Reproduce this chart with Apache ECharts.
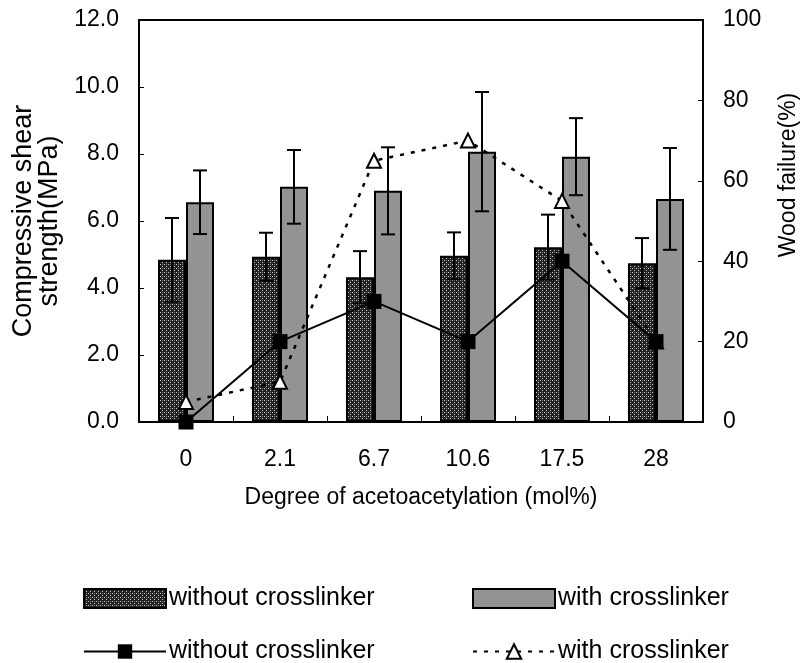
<!DOCTYPE html>
<html>
<head>
<meta charset="utf-8">
<script src="https://cdn.jsdelivr.net/npm/echarts@6/dist/echarts.min.js"></script>
<style>
  html, body { margin: 0; padding: 0; background: #fff; }
  #chart { width: 801px; height: 663px; }
</style>
</head>
<body>
<div id="chart"></div>
<script>
// Degree of acetoacetylation (mol%)
const categories = ['0', '2.1', '6.7', '10.6', '17.5', '28'];

// Compressive shear strength (MPa), mean and standard deviation
const shearWithout = [4.84, 4.93, 4.32, 4.96, 5.22, 4.74];
const sdWithout    = [1.25, 0.72, 0.78, 0.70, 0.97, 0.75];
const shearWith    = [6.56, 7.02, 6.90, 8.07, 7.92, 6.66];
const sdWith       = [0.95, 1.10, 1.30, 1.78, 1.15, 1.52];

// Wood failure (%)
const woodWithout = [0, 20, 30, 20, 40, 20];
const woodWith    = [5, 10, 65, 70, 55, 20];

// Axis ticks
const shearTicks = { min: 0, max: 12, interval: 2 };
const woodTicks  = { min: 0, max: 100, interval: 20 };

const legendText = {
  barWithout: 'without crosslinker',
  barWith: 'with crosslinker',
  lineWithout: 'without crosslinker',
  lineWith: 'with crosslinker'
};

// Stippled fill for the bars without crosslinker
function stipple() {
  const c = document.createElement('canvas');
  c.width = 4; c.height = 4;
  const g = c.getContext('2d');
  g.fillStyle = '#222';
  g.fillRect(0, 0, 4, 4);
  g.fillStyle = '#c8c8c8';
  g.fillRect(0, 0, 1, 1);
  g.fillRect(2, 2, 1, 1);
  g.fillStyle = '#707070';
  g.fillRect(2, 0, 1, 1);
  return c;
}

const FONT = 'Liberation Sans, Arial, sans-serif';
const BAR_W = 28;

function errorBars(means, sds, offset) {
  return {
    type: 'custom',
    yAxisIndex: 0,
    z: 5,
    data: means.map((m, i) => [i, m, sds[i]]),
    encode: { x: 0, y: 1 },
    renderItem: function (params, api) {
      const i = api.value(0);
      const m = api.value(1);
      const s = api.value(2);
      const top = api.coord([i, m + s]);
      const bot = api.coord([i, m - s]);
      const x = top[0] + offset;
      const cap = 7;
      const style = { stroke: '#000', lineWidth: 2 };
      return {
        type: 'group',
        children: [
          { type: 'line', shape: { x1: x, y1: top[1], x2: x, y2: bot[1] }, style: style },
          { type: 'line', shape: { x1: x - cap, y1: top[1], x2: x + cap, y2: top[1] }, style: style },
          { type: 'line', shape: { x1: x - cap, y1: bot[1], x2: x + cap, y2: bot[1] }, style: style }
        ]
      };
    }
  };
}

function legendBox(name, left, top, h, icon) {
  const box = {
    data: [name],
    left: left,
    top: top,
    padding: 0,
    itemWidth: 82,
    itemHeight: h,
    itemGap: 0,
    selectedMode: false,
    formatter: n => legendText[n],
    textStyle: { fontFamily: FONT, fontSize: 25, color: '#000', padding: [0, 0, 0, -2] }
  };
  if (icon) box.icon = icon;
  return box;
}

const chart = echarts.init(document.getElementById('chart'), null, { renderer: 'canvas' });

chart.setOption({
  backgroundColor: '#fff',
  animation: false,
  grid: {
    left: 139, right: 98, top: 20, bottom: 241,
    containLabel: false,
    outerBoundsMode: 'none',
    show: true, borderColor: '#000', borderWidth: 2, backgroundColor: 'transparent'
  },
  legend: [
    legendBox('barWithout', 83, 586, 19, 'rect'),
    legendBox('barWith', 472, 586, 19, 'rect'),
    legendBox('lineWithout', 83, 639, 18),
    legendBox('lineWith', 472, 639, 18)
  ],
  xAxis: {
    type: 'category',
    data: categories,
    boundaryGap: true,
    name: 'Degree of acetoacetylation (mol%)',
    nameLocation: 'middle',
    nameGap: 64,
    nameTextStyle: { fontFamily: FONT, fontSize: 23, color: '#000' },
    axisLine: { show: true, lineStyle: { color: '#000', width: 2 } },
    axisTick: { show: true, inside: true, length: 6, lineStyle: { color: '#000', width: 1 } },
    axisLabel: { fontFamily: FONT, fontSize: 23, color: '#000', margin: 26 },
    splitLine: { show: false }
  },
  yAxis: [
    {
      type: 'value',
      min: shearTicks.min, max: shearTicks.max, interval: shearTicks.interval,
      position: 'left',
      name: 'Compressive shear\nstrength(MPa)',
      nameLocation: 'middle',
      nameGap: 74,
      nameRotate: 90,
      nameTextStyle: { fontFamily: FONT, fontSize: 27, lineHeight: 26, color: '#000', align: 'center' },
      axisLine: { show: true, lineStyle: { color: '#000', width: 2 } },
      axisTick: { show: true, inside: true, length: 5, lineStyle: { color: '#000', width: 1 } },
      axisLabel: { fontFamily: FONT, fontSize: 23, color: '#000', margin: 20, formatter: v => v.toFixed(1) },
      splitLine: { show: false }
    },
    {
      type: 'value',
      min: woodTicks.min, max: woodTicks.max, interval: woodTicks.interval,
      position: 'right',
      name: 'Wood failure(%)',
      nameLocation: 'middle',
      nameGap: 74,
      nameRotate: 90,
      nameTextStyle: { fontFamily: FONT, fontSize: 23, color: '#000', padding: [0, 0, 0, 92] },
      axisLine: { show: true, lineStyle: { color: '#000', width: 2 } },
      axisTick: { show: true, inside: true, length: 5, lineStyle: { color: '#000', width: 1 } },
      axisLabel: { fontFamily: FONT, fontSize: 23, color: '#000', margin: 20 },
      splitLine: { show: false }
    }
  ],
  series: [
    {
      name: 'barWithout',
      type: 'bar',
      yAxisIndex: 0,
      data: shearWithout,
      barWidth: BAR_W,
      barGap: '0%',
      itemStyle: {
        color: { image: stipple(), repeat: 'repeat' },
        borderColor: '#000', borderWidth: 2
      }
    },
    {
      name: 'barWith',
      type: 'bar',
      yAxisIndex: 0,
      data: shearWith,
      barWidth: BAR_W,
      barGap: '0%',
      itemStyle: { color: '#939393', borderColor: '#000', borderWidth: 2 }
    },
    errorBars(shearWithout, sdWithout, -BAR_W / 2),
    errorBars(shearWith, sdWith, BAR_W / 2),
    {
      name: 'lineWith',
      type: 'line',
      yAxisIndex: 1,
      data: woodWith,
      z: 8,
      clip: false,
      symbol: 'triangle',
      symbolSize: 14,
      lineStyle: { color: '#000', width: 2.5, type: [4, 7] },
      itemStyle: { color: '#fff', borderColor: '#000', borderWidth: 2 }
    },
    {
      name: 'lineWithout',
      type: 'line',
      yAxisIndex: 1,
      data: woodWithout,
      z: 9,
      clip: false,
      symbol: 'rect',
      symbolSize: 15,
      lineStyle: { color: '#000', width: 2 },
      itemStyle: { color: '#000', borderColor: '#000', borderWidth: 0 }
    }
  ]
});
</script>
</body>
</html>
